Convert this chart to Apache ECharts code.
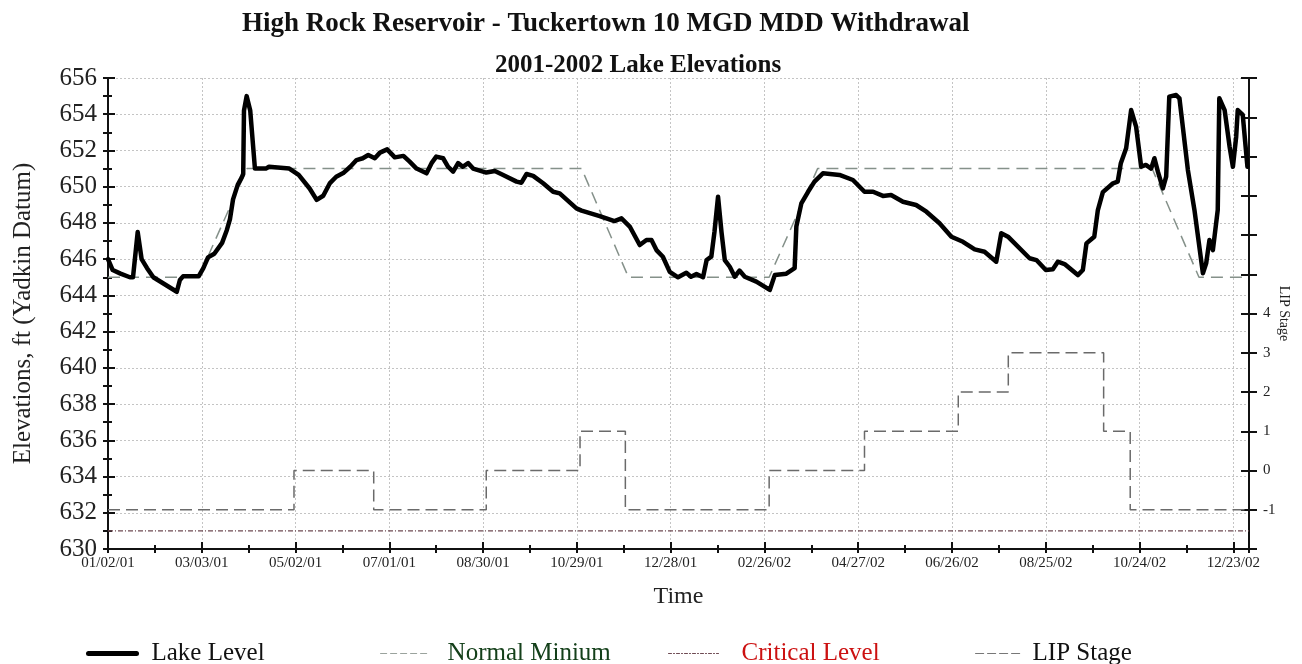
<!DOCTYPE html>
<html>
<head>
<meta charset="utf-8">
<script src="https://cdn.jsdelivr.net/npm/echarts@6/dist/echarts.min.js"></script>
<style>
html,body{margin:0;padding:0;background:#fff;}
#chart{width:1302px;height:664px;}
</style>
</head>
<body>
<div id="chart"></div>
<script>
// x values are days since 01/02/01
var xTickLabels = ['01/02/01','03/03/01','05/02/01','07/01/01','08/30/01','10/29/01','12/28/01','02/26/02','04/27/02','06/26/02','08/25/02','10/24/02','12/23/02'];

var lakeDay = [0,3,8,14,16,19,21.5,25,29,44,46,48,58,61,64,68,73,76,78,80,83,85.5,86.5,87,88.7,91,94,101,103,116,122,129,133.5,137.7,142,146,150.5,155,159,163,166.5,170.7,174,178.6,183.5,189,193,197.4,203.8,207,210,214.4,217.6,220.8,224,227,230.4,233.6,242,247.5,252.8,261.4,264.5,267.8,272,278.4,284.8,289,299.7,303,314.6,324,328.5,333.8,340.2,344.5,347.7,350.9,355,359.4,364.7,370,373,376.5,380.7,383,386,388,390.3,392.5,394.6,397.8,401,404,407.4,414.8,423.4,426.6,434,439.3,440.4,443.6,447.9,452,457.4,468,476.6,484,489.5,495.8,501,508.6,517,523.6,532,539.6,547,554.5,560.8,568.3,571.5,575.8,589.6,594,600,604.5,607.7,612,620.5,623.7,626,631,633.3,636.5,643,646,648,651.4,654.6,655.6,657.8,661,664,667.4,669.5,671.7,674.9,677,679,683.4,685.5,690.9,695.1,700.5,702.6,704.7,706.9,710,711,714.4,717.6,719.7,721.8,722.8,726,729];
var lakeLevel = [646.0,645.4,645.2,645.0,645.0,647.5,646.0,645.5,645.0,644.2,644.85,645.05,645.05,645.5,646.1,646.3,646.9,647.6,648.2,649.3,650.1,650.5,650.7,654.2,655.0,654.2,651.0,651.0,651.1,651.0,650.65,649.9,649.27,649.5,650.2,650.55,650.75,651.1,651.47,651.57,651.75,651.57,651.88,652.06,651.62,651.7,651.38,651.0,650.74,651.3,651.66,651.57,651.1,650.83,651.3,651.1,651.3,651.0,650.78,650.87,650.65,650.28,650.22,650.7,650.6,650.19,649.72,649.63,648.8,648.68,648.38,648.1,648.25,647.8,646.78,647.06,647.06,646.5,646.13,645.3,645.0,645.25,645.03,645.18,645.0,645.95,646.14,647.5,649.45,647.5,645.95,645.58,645.03,645.37,645.03,644.76,644.3,645.12,645.2,645.5,647.8,649.08,649.72,650.28,650.74,650.65,650.37,649.72,649.72,649.49,649.54,649.17,648.99,648.62,647.98,647.24,646.96,646.54,646.41,645.86,647.43,647.24,646.05,645.95,645.4,645.44,645.86,645.73,645.12,645.4,646.87,647.24,648.71,649.7,650.19,650.28,651.3,652.12,654.23,654.32,653.3,651.1,651.2,651.0,651.57,650.83,649.91,650.55,654.97,655.06,654.88,650.92,648.71,645.22,645.77,647.06,646.5,648.71,654.88,654.23,652.2,651.1,652.76,654.23,653.96,651.1];

var normalDay = [0,58,89,303,333,423,454,668,698,728];
var normalLevel = [645,645,651,651,645,645,651,651,645,645];

var criticalDay = [0,730];
var criticalLevel = [631,631];

var lipDay = [0,119,170,242,302,331,423,484,544,576,637,654,728];
var lipStage = [-1,0,-1,0,1,-1,0,1,2,3,1,-1,-1];

function pairs(xs, ys){ return xs.map(function(x,i){ return [x, ys[i]]; }); }

var FONT = 'Liberation Serif';
var gridCol = '#c4c4c4';

var lakeStyle = {color: '#000', width: 4.5, join: 'round', cap: 'round'};
var normalStyle = {color: '#85918a', width: 1.5, type: [12,7]};
var criticalStyle = {color: '#6e4a52', width: 1.2, type: [5,2,1,2]};
var lipStyle = {color: '#6a6a6a', width: 1.5, type: [12,6]};

function legendItem(name, color, left, pad, itemWidth, ls){
  return {data: [{name: name, textStyle: {color: color}}], left: left, top: 641, padding: 0,
    itemWidth: itemWidth, itemHeight: 14,
    itemStyle: {opacity: 0, borderWidth: 0},
    lineStyle: {color: ls.color, width: ls.width, type: ls.type || 'solid', opacity: 1, cap: 'round'},
    textStyle: {fontFamily: FONT, fontSize: 25, padding: [0,0,0,pad]}};
}

var chart = echarts.init(document.getElementById('chart'), null, {renderer:'canvas'});
chart.setOption({
  animation: false,
  backgroundColor: '#ffffff',
  title: [
    {text: 'High Rock Reservoir - Tuckertown 10 MGD MDD Withdrawal', left: 237, top: 6,
     textStyle: {fontFamily: FONT, fontWeight: 'bold', fontSize: 27, color: '#111'}},
    {text: '2001-2002 Lake Elevations', left: 490, top: 48,
     textStyle: {fontFamily: FONT, fontWeight: 'bold', fontSize: 25, color: '#111'}}
  ],
  grid: {left: 108, right: 53, top: 78, bottom: 115, containLabel: false, outerBoundsMode: 'none'},
  legend: [
    legendItem('Lake Level', '#111', 86, 10, 48, {color: '#000', width: 5}),
    legendItem('Normal Minium', '#14401a', 380, 12, 50, {color: '#9aa39d', width: 1.2, type: [6,4]}),
    legendItem('Critical Level', '#cc1111', 668, 18, 50, {color: '#6e4a52', width: 1, type: [3,2,1,2]}),
    legendItem('LIP Stage', '#111', 975, 6, 46, {color: '#777', width: 1.2, type: [8,4]})
  ],
  xAxis: [
    {type: 'value', min: 0, max: 730, interval: 30, position: 'bottom',
     name: 'Time', nameLocation: 'middle', nameGap: 36, nameMoveOverlap: false,
     nameTextStyle: {fontFamily: FONT, fontSize: 24, color: '#222'},
     axisLine: {show: true, onZero: false, lineStyle: {color: '#111', width: 2}},
     axisTick: {show: true, length: 4, lineStyle: {color: '#111', width: 2}},
     axisLabel: {show: true, margin: 7, fontFamily: FONT, fontSize: 15, color: '#222',
       formatter: function(v){ return (v % 60 === 0 && v/60 < xTickLabels.length) ? xTickLabels[v/60] : ''; }},
     splitLine: {show: false}},
    {type: 'value', min: 0, max: 730, interval: 60, position: 'bottom',
     axisLine: {show: false, onZero: false},
     axisTick: {show: true, inside: true, length: 7, lineStyle: {color: '#111', width: 2}},
     axisLabel: {show: false},
     splitLine: {show: true, lineStyle: {color: gridCol, width: 1, type: [2,2]}}},
    {type: 'value', min: 0, max: 730, interval: 30, position: 'bottom',
     axisLine: {show: false, onZero: false},
     axisTick: {show: true, inside: true, length: 4, lineStyle: {color: '#111', width: 2}},
     axisLabel: {show: false}, splitLine: {show: false}}
  ],
  yAxis: [
    {type: 'value', min: 630, max: 656, interval: 1, position: 'left',
     name: 'Elevations, ft (Yadkin Datum)', nameLocation: 'middle', nameGap: 72, nameRotate: 90,
     nameTextStyle: {fontFamily: FONT, fontSize: 25, color: '#222'},
     axisLine: {show: true, onZero: false, lineStyle: {color: '#111', width: 2}},
     axisTick: {show: true, length: 5, lineStyle: {color: '#111', width: 2}},
     axisLabel: {show: true, margin: 11, fontFamily: FONT, fontSize: 25, color: '#222',
       formatter: function(v){ return v % 2 === 0 ? String(v) : ''; }},
     splitLine: {show: false}},
    {type: 'value', min: -2, max: 10, interval: 1, position: 'right',
     name: 'LIP Stage', nameLocation: 'middle', nameGap: 28, nameRotate: -90, nameMoveOverlap: false,
     nameTextStyle: {fontFamily: FONT, fontSize: 14, color: '#222'},
     axisLine: {show: true, onZero: false, lineStyle: {color: '#111', width: 2}},
     axisTick: {show: true, length: 8, lineStyle: {color: '#111', width: 2}},
     axisLabel: {show: true, margin: 14, fontFamily: FONT, fontSize: 15, color: '#222',
       formatter: function(v){ return (v >= -1 && v <= 4) ? String(v) : ''; }},
     splitLine: {show: false}},
    {type: 'value', min: 630, max: 656, interval: 2, position: 'left',
     axisLine: {show: false, onZero: false},
     axisTick: {show: true, inside: true, length: 7, lineStyle: {color: '#111', width: 2}},
     axisLabel: {show: false},
     splitLine: {show: true, lineStyle: {color: gridCol, width: 1, type: [2,2]}}},
    {type: 'value', min: 630, max: 656, interval: 1, position: 'left',
     axisLine: {show: false, onZero: false},
     axisTick: {show: true, inside: true, length: 4, lineStyle: {color: '#111', width: 2}},
     axisLabel: {show: false}, splitLine: {show: false}},
    {type: 'value', min: -2, max: 10, interval: 1, position: 'right',
     axisLine: {show: false, onZero: false},
     axisTick: {show: true, inside: true, length: 8, lineStyle: {color: '#111', width: 2}},
     axisLabel: {show: false}, splitLine: {show: false}}
  ],
  series: [
    {name: 'Lake Level', type: 'line', xAxisIndex: 0, yAxisIndex: 0, symbol: 'none', z: 5,
     data: pairs(lakeDay, lakeLevel), lineStyle: lakeStyle, itemStyle: {color: '#000'}},
    {name: 'Normal Minium', type: 'line', xAxisIndex: 0, yAxisIndex: 0, symbol: 'none', z: 3,
     data: pairs(normalDay, normalLevel), lineStyle: normalStyle, itemStyle: {color: normalStyle.color}},
    {name: 'Critical Level', type: 'line', xAxisIndex: 0, yAxisIndex: 0, symbol: 'none', z: 3,
     data: pairs(criticalDay, criticalLevel), lineStyle: criticalStyle, itemStyle: {color: criticalStyle.color}},
    {name: 'LIP Stage', type: 'line', xAxisIndex: 0, yAxisIndex: 1, symbol: 'none', step: 'end', z: 3,
     data: pairs(lipDay, lipStage), lineStyle: lipStyle, itemStyle: {color: lipStyle.color}}
  ]
});
</script>
</body>
</html>
